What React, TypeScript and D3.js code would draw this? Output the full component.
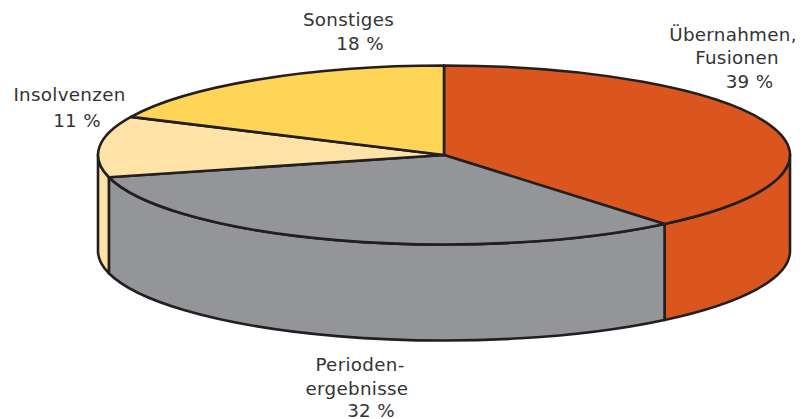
import * as d3 from 'd3';

const categories = ['Übernahmen, Fusionen', 'Periodenergebnisse', 'Insolvenzen', 'Sonstiges'];
const shares = [39, 32, 11, 18];
const colors = ['#db561e', '#939598', '#ffe3a6', '#ffd557'];
const labels = [
  [{ t: 'Übernahmen,', x: 733, y: 41 }, { t: 'Fusionen', x: 737, y: 64 }, { t: '39 %', x: 749.5, y: 88 }],
  [{ t: 'Perioden-', x: 360, y: 371 }, { t: 'ergebnisse', x: 357, y: 395 }, { t: '32 %', x: 371, y: 417 }],
  [{ t: 'Insolvenzen', x: 69.5, y: 101 }, { t: '11 %', x: 77, y: 127 }],
  [{ t: 'Sonstiges', x: 348.5, y: 26 }, { t: '18 %', x: 360, y: 50 }],
];

const W = 803, H = 419;
const cx = 444, cy = 155, rx = 346, ry = 89.5, depth = 96;

// angle 0 at top, clockwise, same as d3.pie
const px = (a: number) => cx + rx * Math.sin(a);
const py = (a: number) => cy - ry * Math.cos(a);

const pie = d3.pie<number>().sort(null);
const arcs = pie(shares);
const arc = d3.arc<d3.PieArcDatum<number>>().innerRadius(0).outerRadius(rx);

function wall(a0: number, a1: number) {
  // only the front half of the rim is visible
  const s = Math.max(a0, Math.PI / 2), e = Math.min(a1, 1.5 * Math.PI);
  if (e <= s) return null;
  return `M${px(s)},${py(s)} A${rx},${ry} 0 0 1 ${px(e)},${py(e)} L${px(e)},${py(e) + depth} A${rx},${ry} 0 0 0 ${px(s)},${py(s) + depth} Z`;
}

export default function App() {
  return (
    <svg width={W} height={H} viewBox={`0 0 ${W} ${H}`}
      style={{ position: 'absolute', left: 0, top: 0, background: '#fff' }}>
      <g stroke="#231f20" strokeWidth={2.6} strokeLinejoin="round">
        {arcs.map((d, i) => {
          const p = wall(d.startAngle, d.endAngle);
          return p && <path key={categories[i]} d={p} fill={colors[i]} />;
        })}
        {arcs.map((d, i) => (
          <path key={categories[i]} d={arc(d) as string} fill={colors[i]}
            transform={`translate(${cx},${cy}) scale(1,${ry / rx})`}
            vectorEffect="non-scaling-stroke" />
        ))}
      </g>
      <g fontFamily="'DejaVu Sans', Verdana, sans-serif" fontSize={18.3} letterSpacing={0.3} fill="#333" textAnchor="middle">
        {labels.map((rows, i) => rows.map(r => (
          <text key={i + r.t} x={r.x} y={r.y}>{r.t}</text>
        )))}
      </g>
    </svg>
  );
}
